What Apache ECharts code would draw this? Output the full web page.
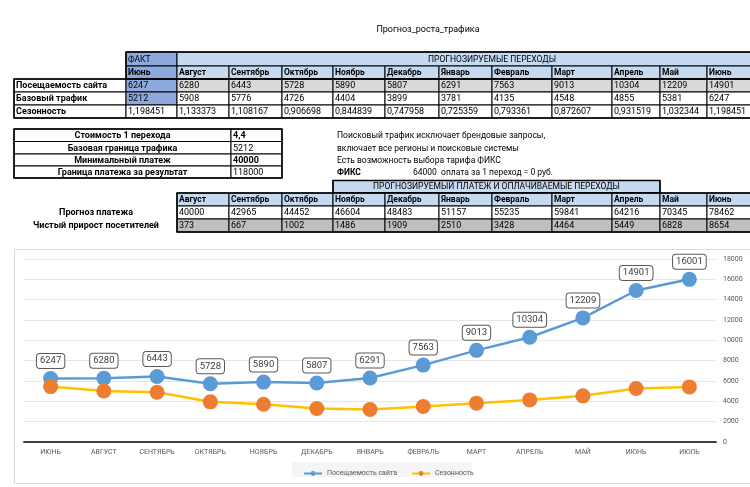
<!DOCTYPE html>
<html><head><meta charset="utf-8">
<script src="https://cdn.jsdelivr.net/npm/echarts@6/dist/echarts.min.js"></script>
<style>html,body{margin:0;padding:0;background:#fff}#c{width:750px;height:487px}</style>
</head><body><div id="c"></div>
<script>
// ---------- DATA ----------
const titleText = 'Прогноз_роста_трафика';
const factLabel = 'ФАКТ';
const forecastHeader = 'ПРОГНОЗИРУЕМЫЕ ПЕРЕХОДЫ';
const tableMonths = ['Июнь','Август','Сентябрь','Октябрь','Ноябрь','Декабрь','Январь','Февраль','Март','Апрель','Май','Июнь'];
const rowLabels = ['Посещаемость сайта','Базовый трафик','Сезонность'];
const siteVisits = ['6247','6280','6443','5728','5890','5807','6291','7563','9013','10304','12209','14901'];
const baseTraffic = ['5212','5908','5776','4726','4404','3899','3781','4135','4548','4855','5381','6247'];
const seasonality = ['1,198451','1,133373','1,108167','0,906698','0,844839','0,747958','0,725359','0,793361','0,872607','0,931519','1,032344','1,198451'];

const paramLabels = ['Стоимость 1 перехода','Базовая граница трафика','Минимальный платеж','Граница платежа за результат'];
const paramValues = ['4,4','5212','40000','118000'];

const noteLines = ['Поисковый трафик исключает брендовые запросы,','включает все регионы и поисковые системы','Есть возможность выбора тарифа ФИКС'];
const fixLabel = 'ФИКС';
const fixText = '64000  оплата за 1 переход = 0 руб.';

const paymentHeader = 'ПРОГНОЗИРУЕМЫЙ ПЛАТЕЖ И ОПЛАЧИВАЕМЫЕ ПЕРЕХОДЫ';
const paymentMonths = ['Август','Сентябрь','Октябрь','Ноябрь','Декабрь','Январь','Февраль','Март','Апрель','Май','Июнь'];
const paymentRowLabels = ['Прогноз платежа','Чистый прирост посетителей'];
const paymentForecast = ['40000','42965','44452','46604','48483','51157','55235','59841','64216','70345','78462'];
const netGrowth = ['373','667','1002','1486','1909','2510','3428','4464','5449','6828','8654'];

const chartCategories = ['ИЮНЬ','АВГУСТ','СЕНТЯБРЬ','ОКТЯБРЬ','НОЯБРЬ','ДЕКАБРЬ','ЯНВАРЬ','ФЕВРАЛЬ','МАРТ','АПРЕЛЬ','МАЙ','ИЮНЬ','ИЮЛЬ'];
const seriesNames = ['Посещаемость сайта','Сезонность'];
const visitsSeries = [6247,6280,6443,5728,5890,5807,6291,7563,9013,10304,12209,14901,16001];
const seasonSeries = [5450,5020,4900,3950,3720,3290,3190,3490,3820,4140,4540,5260,5420];
const yTicks = {min:0, max:18000, interval:2000};

// ---------- LAYOUT ----------
const FONT = 'Roboto, "Noto Sans", sans-serif';
const BLUE_F = '#8EA9DB', LBLUE = '#C5D9F1', GRAY = '#D9D9D9', DGRAY = '#BFBFBF';
const colX = [126,177,229,282,333,385,439,492,552,612,660,707,752];
const g = [];
function rect(x0,y0,x1,y1,fill,stroke,lw){
  g.push({type:'rect',silent:true,z:1,shape:{x:x0,y:y0,width:x1-x0,height:y1-y0},
    style:{fill:fill||'none',stroke:stroke||'#000',lineWidth:lw||1}});
}
function txt(x,y,t,opt){
  opt=opt||{};
  const al = opt.align||'left';
  g.push({type:'text',silent:true,z:2,x:x,y:y,style:{text:t,
    font:(opt.bold?'bold ':'')+(opt.size||9)+'px '+FONT,fill:opt.color||'#000',
    align:al,verticalAlign:'middle',textAlign:al,textVerticalAlign:'middle'}});
}
function cell(x0,y0,x1,y1,fill,t,opt){
  rect(x0,y0,x1,y1,fill);
  opt=opt||{};
  if(opt.align==='center') txt((x0+x1)/2,(y0+y1)/2+0.5,t,opt);
  else txt(x0+2,(y0+y1)/2+0.5,t,opt);
}
// title
txt(428,30,titleText,{align:'center',size:9});
// top table
const rY = [52,66,79,92,105,118];
cell(colX[0],rY[0],colX[1],rY[1],BLUE_F,factLabel,{size:8.5});
rect(colX[1],rY[0],colX[12],rY[1],LBLUE);
txt(492,(rY[0]+rY[1])/2+0.5,forecastHeader,{align:'center',size:8.5});
tableMonths.forEach((m,i)=>cell(colX[i],rY[1],colX[i+1],rY[2],i===0?BLUE_F:LBLUE,m,{bold:true,size:8.5}));
const rowsData=[siteVisits,baseTraffic,seasonality];
rowsData.forEach((arr,r)=>{
  cell(14,rY[r+2],colX[0],rY[r+3],'#fff',rowLabels[r],{bold:true,size:9});
  arr.forEach((v,i)=>{
    let f = r===0?GRAY:'#fff';
    if(i===0 && r<2) f=BLUE_F;
    cell(colX[i],rY[r+2],colX[i+1],rY[r+3],f,v,{size:9});
  });
});
rect(14,rY[2],colX[12],rY[5],'none','#000',1.5);
rect(colX[0],rY[0],colX[12],rY[2],'none','#000',1.5);
// params table
const pY=[129,141.5,154,166,178];
paramLabels.forEach((l,i)=>{
  cell(14,pY[i],231,pY[i+1],'#fff',l,{bold:true,align:'center',size:9});
  cell(231,pY[i],282,pY[i+1],'#fff',paramValues[i],{bold:(i===0||i===2),size:9});
});
rect(14,pY[0],282,pY[4],'none','#000',1.5);
// notes
noteLines.forEach((l,i)=>txt(337,[136,149,161][i],l,{size:8.5}));
txt(337,173,fixLabel,{bold:true,size:8.5});
txt(413,173,fixText,{size:8.5});
// payment table
const qY=[180.5,193,206,219,232];
cell(333,qY[0],660,qY[1],LBLUE,paymentHeader,{align:'center',size:8.5});
rect(333,qY[0],660,qY[1],'none','#000',1.5);
paymentMonths.forEach((m,i)=>{
  cell(colX[i+1],qY[1],colX[i+2],qY[2],LBLUE,m,{bold:true,size:8.5});
  cell(colX[i+1],qY[2],colX[i+2],qY[3],'#fff',paymentForecast[i],{size:9});
  cell(colX[i+1],qY[3],colX[i+2],qY[4],DGRAY,netGrowth[i],{size:9});
});
rect(colX[1],qY[1],colX[12],qY[4],'none','#000',1.5);
paymentRowLabels.forEach((l,i)=>txt(96,(qY[i+2]+qY[i+3])/2+0.5,l,{bold:true,align:'center',size:9}));
// chart frame
g.push({type:'rect',silent:true,z:0,shape:{x:14.5,y:249.5,width:740,height:234},style:{fill:'#fff',stroke:'#D9D9D9',lineWidth:1}});
g.push({type:'rect',silent:true,z:0,shape:{x:292,y:462,width:180,height:15},style:{fill:'#F5F5F5',stroke:'none'}});

const chart = echarts.init(document.getElementById('c'),null,{renderer:'canvas'});
chart.setOption({
  animation:false,
  graphic:{elements:g},
  grid:{left:24,right:34,top:259,height:183,containLabel:false},
  legend:{data:seriesNames,left:298,top:465,itemWidth:18,itemHeight:6,itemGap:14,
    textStyle:{fontSize:7,color:'#595959',fontFamily:FONT}},
  xAxis:{type:'category',data:chartCategories,boundaryGap:true,
    axisLine:{lineStyle:{color:'#404040',width:2}},axisTick:{show:false},
    axisLabel:{fontSize:7,color:'#595959',margin:7,interval:0,fontFamily:FONT},splitLine:{show:false}},
  yAxis:{type:'value',position:'right',min:yTicks.min,max:yTicks.max,interval:yTicks.interval,
    axisLine:{show:false},axisTick:{show:false},
    axisLabel:{fontSize:7,color:'#595959',margin:7,fontFamily:FONT,formatter:v=>String(v)},
    splitLine:{lineStyle:{color:'#E6E6E6',width:1}}},
  series:[
    {name:seriesNames[0],type:'line',data:visitsSeries,symbol:'circle',symbolSize:15,
      lineStyle:{color:'#5B9BD5',width:2.5},itemStyle:{color:'#5B9BD5'},
      label:{show:true,position:'top',distance:3,fontSize:9.5,color:'#404040',fontFamily:FONT,
        backgroundColor:'#fff',borderColor:'#595959',borderWidth:1,borderRadius:3,padding:[2,3,2,3]},
      z:3},
    {name:seriesNames[1],type:'line',data:seasonSeries,symbol:'circle',symbolSize:15,
      lineStyle:{color:'#FFC000',width:2.5},itemStyle:{color:'#ED7D31'},z:4}
  ]
});
</script></body></html>
